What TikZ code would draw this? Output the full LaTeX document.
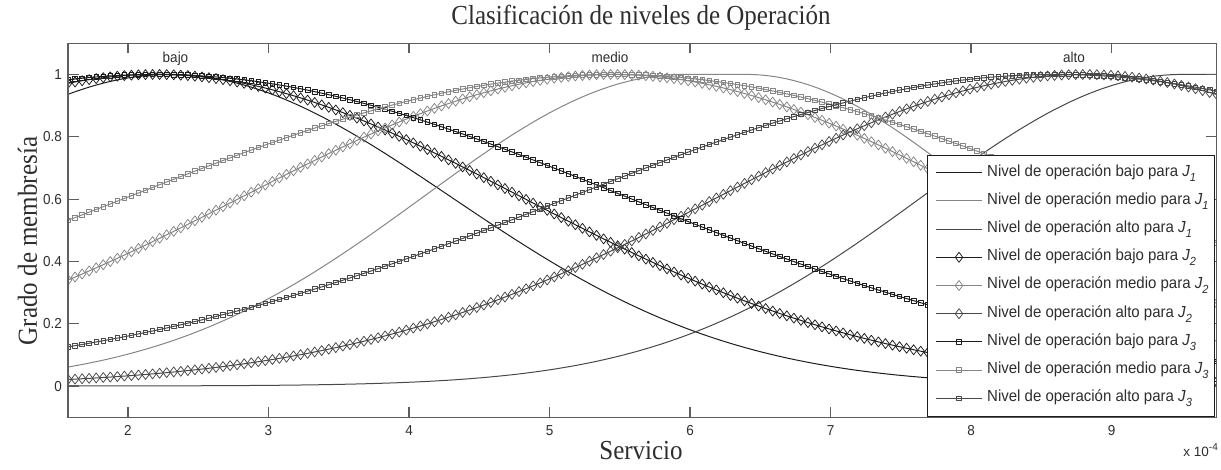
\documentclass[tikz,border=0pt]{standalone}
\usepackage{fontspec}
\setmainfont{Liberation Serif}
\newfontfamily\arialf{Liberation Sans}
\usetikzlibrary{plotmarks}
\definecolor{cdark}{HTML}{1C1C1C}
\definecolor{cmid}{HTML}{484848}
\definecolor{clight}{HTML}{858585}
\definecolor{caxis}{HTML}{5E5E5E}
\definecolor{ctext}{HTML}{2E2E2E}
\tikzset{
  declare function={gs(\xq,\cq,\sq)=exp(-((\xq-\cq)*(\xq-\cq))/(2*\sq*\sq));},
  curve/.style={line width=1pt, line join=round},
  dmark/.style={mark=diamond, mark size=5pt, mark options={line width=0.75pt}},
  smark/.style={mark=square, mark size=2.3pt, mark options={line width=0.75pt}},
  lgnone/.style={mark=none},
  lgdia/.style={dmark},
  lgsq/.style={smark},
  ticklab/.style={font=\arialf\fontsize{13.5}{16}\selectfont, text=ctext, inner sep=0pt},
  serlab/.style={font=\fontsize{25}{30}\selectfont, text=ctext, inner sep=0pt},
  legtext/.style={font=\arialf\fontsize{15}{18}\selectfont, text=ctext, anchor=base west, inner sep=0pt},
  axisline/.style={draw=caxis, line width=1.1pt},
}
\newcommand{\Jsub}[1]{\textit{J}\raisebox{-4.5pt}{\fontsize{11}{11}\selectfont\itshape #1}}
\newcommand{\tallS}[1]{\scalebox{1}[1.1]{#1}}
\newcommand{\tallT}[1]{\scalebox{1}[1.07]{#1}}
\begin{document}
\begin{tikzpicture}[x=1pt,y=1pt]
\useasboundingbox (0,0) rectangle (1221,469);
% data scope
\begin{scope}[x=140.5pt, y=311.5pt, shift={(-153pt,83pt)}]
  \begin{scope}
    \clip (1.573,-0.1) rectangle (9.75,1.1);
    % J1
    \draw[curve, cdark] plot[domain=1.573:9.75, samples=220] (\x,{gs(\x,2.3,2.0)});
    \draw[curve, clight] plot[domain=1.573:9.75, samples=220] (\x,{gs(min(\x,5.95),5.95,1.85)*gs(max(\x,6.4),6.4,1.7)});
    \draw[curve, cmid] plot[domain=1.573:9.75, samples=220] (\x,{gs(min(\x,9.5),9.5,1.85)});
    % J2
    \draw[curve, cdark, dmark] plot[domain=1.573:9.75, samples=164] (\x,{gs(\x,2.2,2.6)});
    \draw[curve, clight, dmark] plot[domain=1.573:9.75, samples=164] (\x,{gs(\x,5.45,2.64)});
    \draw[curve, cmid, dmark] plot[domain=1.573:9.75, samples=164] (\x,{gs(\x,8.8,2.6)});
    % J3
    \draw[curve, cdark, smark] plot[domain=1.573:9.75, samples=164] (\x,{gs(\x,2.2,3.35)});
    \draw[curve, clight, smark] plot[domain=1.573:9.75, samples=164] (\x,{gs(\x,5.45,3.45)});
    \draw[curve, cmid, smark] plot[domain=1.573:9.75, samples=164] (\x,{gs(\x,8.6,3.45)});
  \end{scope}
  % axes box
  \draw[axisline] (1.573,-0.1) rectangle (9.75,1.1);
  \foreach \t in {2,...,9}{
    \draw[axisline] (\t,-0.1) -- ++(0,10pt);
    \draw[axisline] (\t,1.1) -- ++(0,-10pt);
    \node[ticklab, anchor=base] (xt\t) at ([yshift=-18.5pt]\t,-0.1) {\tallT{\t}};
  }
  \foreach \v/\lab in {0/0,0.2/0.2,0.4/0.4,0.6/0.6,0.8/0.8,1/1}{
    \draw[axisline] (1.573,\v) -- ++(11pt,0);
    \draw[axisline] (9.75,\v) -- ++(-11pt,0);
    \node[ticklab, anchor=base east] (yt\lab) at ([xshift=-6pt,yshift=-5pt]1.573,\v) {\tallT{\lab}};
  }
\end{scope}
% top labels
\node[ticklab, anchor=base] (lbajo) at (175.5,406) {\tallT{bajo}};
\node[ticklab, anchor=base] (lmedio) at (610,406) {\tallT{medio}};
\node[ticklab, anchor=base] (lalto) at (1074,406) {\tallT{alto}};
% titles
\node[serlab, anchor=base] (title) at (641,444) {\tallS{Clasificación de niveles de Operación}};
\node[serlab, anchor=base] (xlab) at (641,10) {\tallS{Servicio}};
\node[serlab, anchor=base, rotate=90] (ylab) at (37,228) {\tallS{Grado de membresía}};
\node[ticklab, anchor=base east] (expo) at (1218,13) {x 10\raisebox{6pt}{\fontsize{10}{10}\selectfont -4}};
% legend
\draw[draw=cdark, fill=white, line width=0.9pt] (927,314) rectangle (1214,53);
\foreach \i/\col/\ms/\lvl/\jj in {0/cdark/lgnone/bajo/1,1/clight/lgnone/medio/1,2/cmid/lgnone/alto/1,
  3/cdark/lgdia/bajo/2,4/clight/lgdia/medio/2,5/cmid/lgdia/alto/2,
  6/cdark/lgsq/bajo/3,7/clight/lgsq/medio/3,8/cmid/lgsq/alto/3}{
  \pgfmathsetmacro{\yy}{296.3-28.2*\i}
  \draw[curve, \col] (936,\yy) -- (982,\yy);
  \draw[curve, \col, \ms] plot coordinates {(959,\yy)};
  \node[legtext] (leg\i) at (987,\yy-3.5) {\tallT{Nivel de operación \lvl{} para \Jsub{\jj}}};
}
\end{tikzpicture}
\end{document}
